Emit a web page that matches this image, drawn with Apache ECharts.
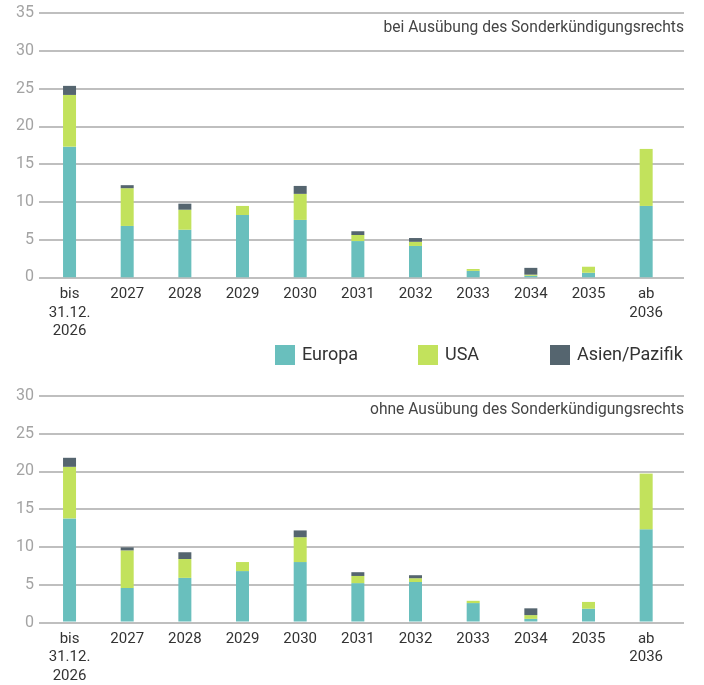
<!DOCTYPE html>
<html>
<head>
<meta charset="utf-8">
<script src="https://cdn.jsdelivr.net/npm/echarts@6/dist/echarts.min.js"></script>
<style>
  html, body { margin: 0; padding: 0; background: #fff; }
  #chart { width: 704px; height: 685px; }
</style>
</head>
<body>
<div id="chart"></div>
<script>
// Kategorien (Jahre)
const categories = ['bis\n31.12.\n2026', '2027', '2028', '2029', '2030', '2031', '2032', '2033', '2034', '2035', 'ab\n2036'];

// oben: bei Ausübung des Sonderkündigungsrechts
const topEuropa = [17.3, 6.8, 6.3, 8.25, 7.6, 4.8, 4.15, 0.85, 0.2, 0.6, 9.45];
const topUSA    = [6.85, 5.0, 2.65, 1.2, 3.45, 0.8, 0.55, 0.25, 0.15, 0.8, 7.55];
const topAsien  = [1.2, 0.4, 0.8, 0, 1.05, 0.5, 0.5, 0, 0.9, 0, 0];

// unten: ohne Ausübung des Sonderkündigungsrechts
const botEuropa = [13.7, 4.45, 5.8, 6.7, 7.9, 5.1, 5.25, 2.45, 0.35, 1.7, 12.25];
const botUSA    = [6.85, 5.0, 2.5, 1.2, 3.3, 0.95, 0.5, 0.3, 0.5, 0.9, 7.4];
const botAsien  = [1.2, 0.4, 0.9, 0, 0.9, 0.5, 0.4, 0, 0.9, 0, 0];

const topMax = 35;
const botMax = 30;

const colors = { Europa: '#69bfbd', USA: '#c2e25c', Asien: '#55656f' };
const font = 'Roboto';

const chart = echarts.init(document.getElementById('chart'));

// Raster-Achse (nur Hilfslinien + Beschriftung)
const lineYAxis = (grid, max) => ({
  gridIndex: grid,
  type: 'value',
  min: 0,
  max: max,
  interval: 5,
  axisLine: { show: false },
  axisTick: { show: false },
  axisLabel: { color: '#a3a3a3', fontSize: 16, fontFamily: font, margin: 5 },
  splitLine: { lineStyle: { color: '#aaaaaa', width: 1.5 } }
});

const barYAxis = (grid, max) => ({
  gridIndex: grid,
  type: 'value',
  min: 0,
  max: max,
  show: false,
  splitLine: { show: false }
});

const catXAxis = (grid) => ({
  gridIndex: grid,
  type: 'category',
  data: categories,
  axisLine: { show: false },
  axisTick: { show: false },
  axisLabel: {
    color: '#333333',
    fontSize: 15,
    fontFamily: font,
    lineHeight: 18.5,
    margin: 8,
    interval: 0
  }
});

const barSeries = (name, data, xi, yi, stack) => ({
  name: name,
  type: 'bar',
  stack: stack,
  xAxisIndex: xi,
  yAxisIndex: yi,
  barWidth: 13,
  data: data,
  itemStyle: { color: colors[name === 'Asien/Pazifik' ? 'Asien' : name] }
});

const legendAt = (left, name) => ({
  left: left,
  top: 345,
  padding: 0,
  itemWidth: 20,
  itemHeight: 20,
  itemGap: 0,
  icon: 'rect',
  data: [name],
  textStyle: { color: '#333333', fontSize: 18, fontFamily: font, padding: [0, 0, 0, 2] }
});

const subTitle = (text, top) => ({
  text: text,
  right: 20,
  top: top,
  padding: 0,
  textStyle: { color: '#444444', fontSize: 15.6, fontWeight: 'normal', fontFamily: font }
});

const option = {
  animation: false,
  title: [
    subTitle('bei Ausübung des Sonderkündigungsrechts', 20),
    subTitle('ohne Ausübung des Sonderkündigungsrechts', 402.5)
  ],
  legend: [
    legendAt(275, 'Europa'),
    legendAt(418, 'USA'),
    legendAt(550, 'Asien/Pazifik')
  ],
  grid: [
    { left: 39, right: 20, top: 13, bottom: 407.7 },
    { left: 40.7, right: 29, top: 13, bottom: 407.7 },
    { left: 39, right: 20, top: 395.7, bottom: 62.3 },
    { left: 40.7, right: 29, top: 395.7, bottom: 62.3 }
  ],
  xAxis: [
    { gridIndex: 0, type: 'value', show: false },
    catXAxis(1),
    { gridIndex: 2, type: 'value', show: false },
    catXAxis(3)
  ],
  yAxis: [
    lineYAxis(0, topMax),
    barYAxis(1, topMax),
    lineYAxis(2, botMax),
    barYAxis(3, botMax)
  ],
  series: [
    barSeries('Europa', topEuropa, 1, 1, 'oben'),
    barSeries('USA', topUSA, 1, 1, 'oben'),
    barSeries('Asien/Pazifik', topAsien, 1, 1, 'oben'),
    barSeries('Europa', botEuropa, 3, 3, 'unten'),
    barSeries('USA', botUSA, 3, 3, 'unten'),
    barSeries('Asien/Pazifik', botAsien, 3, 3, 'unten')
  ]
};

chart.setOption(option);
</script>
</body>
</html>
